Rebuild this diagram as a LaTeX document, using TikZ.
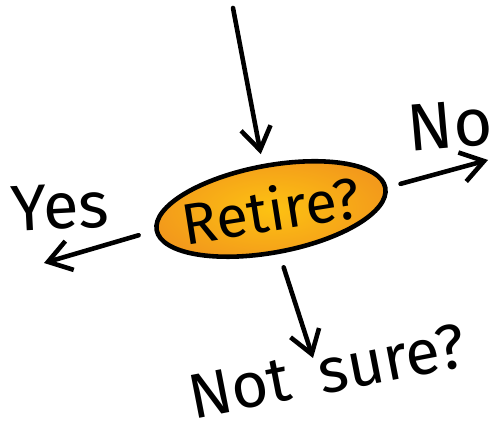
\documentclass[tikz,border=0pt]{standalone}
\usepackage{fontspec}
\setmainfont{Fira Sans}
\usetikzlibrary{arrows.meta,calc,positioning,shapes.geometric}
\definecolor{retireIn}{HTML}{FDC212}
\definecolor{retireOut}{HTML}{F39A1B}

\begin{document}
\begin{tikzpicture}[x=0.2mm,y=0.2mm,>={Straight Barb[length=4.5mm,width=6mm]},
    pen/.style={line width=2.6pt,line cap=round,line join=round},
    hand/.style={font=\fontsize{#1}{#1}\selectfont,inner sep=1pt}]
  \useasboundingbox (0,0) rectangle (490,421);
  \coordinate (topStart) at (233,413);
  \coordinate (noTip) at (488,261);
  \coordinate (yesTip) at (44,158);
  \coordinate (unsureTip) at (313,63);
  % 楕円
  \node[ellipse,pen,draw,inner color=retireIn,outer color=retireOut,inner sep=0pt,
    minimum width=46.5mm,minimum height=17.4mm,rotate=10.5]
    (retire) at (271,212) {};
  \node[hand=33,rotate=9] (retireText) at (retire.center) {Retire?};
  % 矢印
  \draw[pen,->,shorten >=2mm] (topStart) -- (retire.north);
  \draw[pen,->,shorten <=2.7mm] (retire.east) -- (noTip);
  \draw[pen,->,shorten <=3.3mm] (retire.west) -- (yesTip);
  \draw[pen,->,shorten <=2.8mm] (retire.south) -- (unsureTip);
  % ラベル
  \node[hand=37,rotate=3] (yes) at (60,214) {Yes};
  \node[hand=38,rotate=5] (no) at (450,296) {No};
  \node[hand=36,rotate=11] (unsure) at (327,50) {Not\hspace{0.45em}sure?};
\end{tikzpicture}
\end{document}
